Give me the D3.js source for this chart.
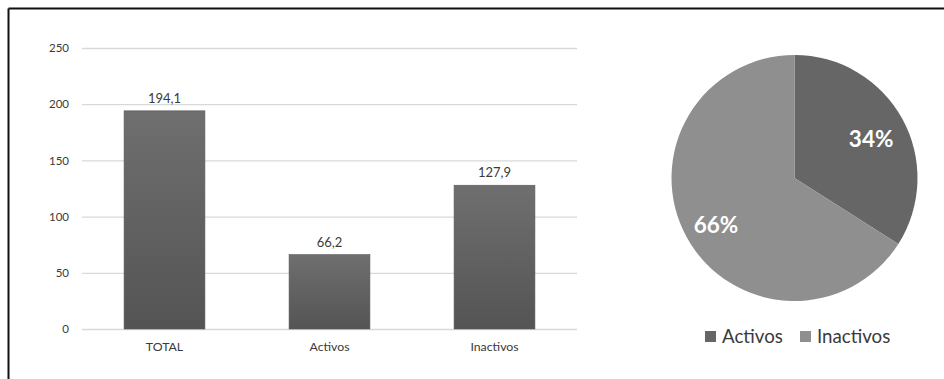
<!DOCTYPE html>
<html><head><meta charset="utf-8">
<script src="https://cdn.jsdelivr.net/npm/d3@7"></script>
<style>body{margin:0;background:#fff}svg{display:block;font-family:Lato,"Open Sans",sans-serif}</style>
</head><body><svg id="c" width="944" height="379"></svg>
<script>
const categories = ["TOTAL", "Activos", "Inactivos"];
const values = [194.1, 66.2, 127.9];
const valueLabels = ["194,1", "66,2", "127,9"];
const yTicks = [0, 50, 100, 150, 200, 250];
const pieLabels = ["Activos", "Inactivos"];
const pieValues = [34, 66];
const pieColors = ["#666666", "#8f8f8f"];

const svg = d3.select("#c");
// frame
svg.append("line").attr("x1",8.5).attr("x2",944).attr("y1",8.5).attr("y2",8.5).attr("stroke","#111").attr("stroke-width",2);
svg.append("line").attr("x1",8.5).attr("x2",8.5).attr("y1",8.5).attr("y2",379).attr("stroke","#111").attr("stroke-width",2);

const defs = svg.append("defs");
const g1 = defs.append("linearGradient").attr("id","bg").attr("x1",0).attr("x2",0).attr("y1",0).attr("y2",1);
g1.append("stop").attr("offset","0%").attr("stop-color","#6f6f6f");
g1.append("stop").attr("offset","100%").attr("stop-color","#545454");

const x = d3.scaleBand().domain(categories).range([82, 577]).paddingInner(0.51).paddingOuter(0.255);
const y = d3.scaleLinear().domain([0, 250]).range([329, 48]);

const gy = svg.append("g").attr("transform","translate(82,0)")
  .call(d3.axisLeft(y).tickValues(yTicks).tickSize(-495).tickPadding(13));
gy.select(".domain").remove();
gy.selectAll(".tick line").attr("stroke","#d9d9d9").attr("stroke-width",1.3);
gy.selectAll(".tick text").attr("fill","#3a3a3a").attr("font-size",11.5).style("font-family","Lato,sans-serif");

svg.selectAll("rect.bar").data(values).enter().append("rect").attr("class","bar")
  .attr("x",(d,i)=>x(categories[i])).attr("width",x.bandwidth())
  .attr("y",d=>y(d)).attr("height",d=>y(0)-y(d)).attr("fill","url(#bg)")
  .attr("stroke","#5a5a5a").attr("stroke-width",0.6);

svg.selectAll("text.vl").data(values).enter().append("text").attr("class","vl")
  .attr("x",(d,i)=>x(categories[i])+x.bandwidth()/2).attr("y",d=>y(d)-8)
  .attr("text-anchor","middle").attr("font-size",13).attr("fill","#3a3a3a")
  .text((d,i)=>valueLabels[i]);

const gx = svg.append("g").attr("transform","translate(0,329)")
  .call(d3.axisBottom(x).tickSize(0).tickPadding(13));
gx.select(".domain").remove();
gx.selectAll(".tick text").attr("fill","#3a3a3a").attr("font-size",12.3).style("font-family","Lato,sans-serif");

// pie
const cx = 794.5, cy = 178, r = 123;
const pie = d3.pie().sort(null)(pieValues);
const arc = d3.arc().innerRadius(0).outerRadius(r);
const pg = svg.append("g").attr("transform",`translate(${cx},${cy})`);
pg.selectAll("path").data(pie).enter().append("path").attr("d",arc)
  .attr("fill",(d,i)=>pieColors[i]);
const la = d3.arc().innerRadius(r*0.72).outerRadius(r*0.72);
pg.selectAll("text").data(pie).enter().append("text")
  .attr("transform",(d,i)=>{const c=la.centroid(d);return `translate(${c[0]-1},${c[1]+4})`;})
  .attr("text-anchor","middle").attr("dy","0.35em").attr("fill","#fff")
  .attr("font-size",22.5).attr("font-weight","bold").text(d=>d.data+"%");

// legend
const lg = svg.append("g");
const legendX = [705, 800];
pieLabels.forEach((l,i)=>{
  lg.append("rect").attr("x",legendX[i]).attr("y",331).attr("width",11).attr("height",11).attr("fill",pieColors[i]);
  lg.append("text").attr("x",legendX[i]+17).attr("y",336.5).attr("dy","0.35em").attr("font-size",18.7).attr("fill","#3a3a3a").text(l);
});
</script></body></html>
